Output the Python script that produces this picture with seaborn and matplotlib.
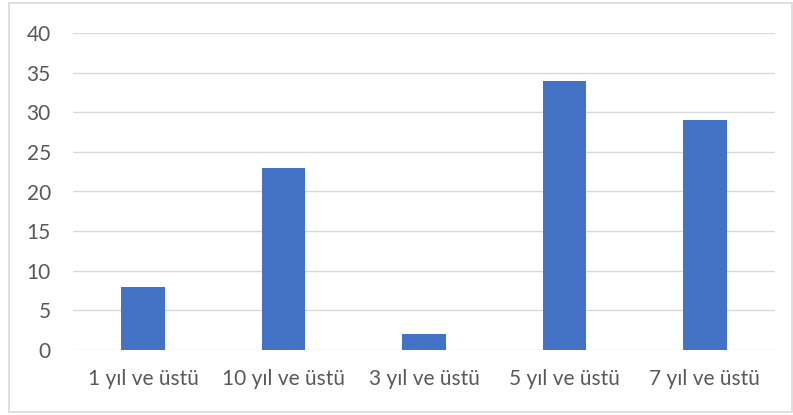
import matplotlib
matplotlib.use("Agg")
import matplotlib.pyplot as plt
import matplotlib.patches as mpatches
import seaborn as sns
import pandas as pd

categories = ["1 yıl ve üstü", "10 yıl ve üstü", "3 yıl ve üstü", "5 yıl ve üstü", "7 yıl ve üstü"]
values = [8, 23, 2, 34, 29]
y_ticks = [0, 5, 10, 15, 20, 25, 30, 35, 40]

sns.set_theme(style="white")
plt.rcParams["font.family"] = ["Lato", "DejaVu Sans"]

W, H, DPI = 793, 415, 100
fig = plt.figure(figsize=(W / DPI, H / DPI), dpi=DPI)
ax = fig.add_axes([73 / W, 1 - 350 / H, (775 - 73) / W, (350 - 33) / H])

df = pd.DataFrame({"cat": categories, "val": values})
sns.barplot(data=df, x="cat", y="val", color="#4472C4", saturation=1, width=0.31,
            linewidth=0, ax=ax)

ax.set_ylim(0, 40)
ax.set_xlim(-0.5, len(categories) - 0.5)
ax.set_yticks(y_ticks)
ax.grid(axis="y", color="#D9D9D9", linewidth=1.0)
ax.set_axisbelow(True)
for s in ax.spines.values():
    s.set_visible(False)
ax.set_xlabel("")
ax.set_ylabel("")
ax.tick_params(axis="both", length=0, labelsize=15, colors="#595959")
ax.tick_params(axis="y", pad=16)
ax.tick_params(axis="x", pad=14)
for lbl in ax.get_yticklabels():
    lbl.set_horizontalalignment("right")

# outer chart frame
fig.patches.append(mpatches.Rectangle((9 / W, 3 / H), (792 - 9) / W, (412 - 3) / H,
                                      transform=fig.transFigure, fill=False,
                                      edgecolor="#D9D9D9", linewidth=1.2))

fig.savefig("out.png", dpi=DPI, facecolor="white")
